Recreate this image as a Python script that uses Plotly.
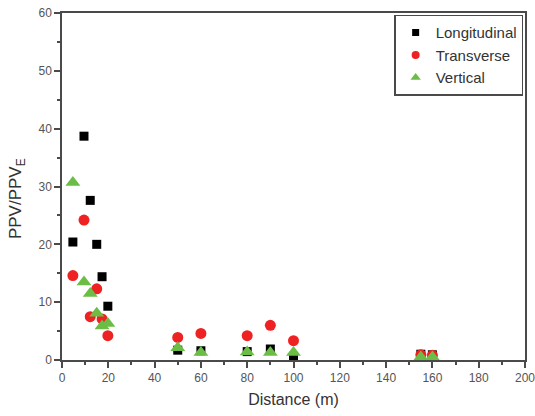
import plotly.graph_objects as go

# Measurement distances (m)
distance = [4.7, 9.5, 12.2, 15.0, 17.3, 19.8, 50, 60, 80, 90, 100, 155, 160]

# Normalised peak particle velocity PPV/PPV_E for each component
longitudinal = [20.4, 38.7, 27.6, 20.0, 14.4, 9.3, 1.7, 1.6, 1.45, 1.9, 0.6, 1.0, 0.9]
transverse = [14.6, 24.2, 7.5, 12.3, 7.1, 4.2, 3.9, 4.6, 4.2, 6.0, 3.35, 0.9, 0.8]
vertical = [30.7, 13.5, 11.5, 8.1, 5.9, 6.3, 2.1, 1.3, 1.4, 1.3, 1.3, 0.5, 0.5]

FONT = "Arial, Liberation Sans, sans-serif"
AXIS_COLOR = "#4a4a4a"

series = [
    ("Longitudinal", longitudinal, "square", 9, 7, "#000000"),
    ("Transverse", transverse, "circle", 11, 8, "#ee2222"),
    ("Vertical", vertical, "triangle-up", 13, 9, "#6cbd45"),
]

fig = go.Figure()
for name, values, symbol, size, _, color in series:
    fig.add_trace(go.Scatter(
        x=distance, y=values, mode="markers", name=name, showlegend=False,
        marker=dict(symbol=symbol, size=size, color=color), cliponaxis=False))
# Legend entries use smaller symbols than the plotted markers
for name, _, symbol, _, legend_size, color in series:
    fig.add_trace(go.Scatter(
        x=[None], y=[None], mode="markers", name=name,
        marker=dict(symbol=symbol, size=legend_size, color=color)))

axis_common = dict(
    showline=True, linecolor=AXIS_COLOR, linewidth=1.5, mirror=True,
    ticks="outside", ticklen=6, tickwidth=1.5, tickcolor=AXIS_COLOR,
    showgrid=False, zeroline=False, automargin=False,
    ticklabeloverflow="allow",
    tickfont=dict(family=FONT, size=12, color="#555555"),
)

fig.update_xaxes(
    range=[0, 200], dtick=20, tick0=0,
    minor=dict(dtick=10, ticks="outside", ticklen=3, tickcolor=AXIS_COLOR, tickwidth=1.5),
    title=dict(text="Distance (m)", font=dict(family=FONT, size=16, color="#333333"), standoff=10),
    **axis_common)
fig.update_yaxes(
    range=[0, 60], dtick=10, tick0=0,
    minor=dict(dtick=5, ticks="outside", ticklen=3, tickcolor=AXIS_COLOR, tickwidth=1.5),
    **axis_common)

fig.update_layout(
    width=535, height=416,
    margin=dict(l=62, r=10, t=13, b=56),
    plot_bgcolor="white", paper_bgcolor="white",
    legend=dict(
        x=0.996, y=0.995, xanchor="right", yanchor="top",
        bordercolor=AXIS_COLOR, borderwidth=1.5, bgcolor="white",
        font=dict(family=FONT, size=15, color="#333333"),
        tracegroupgap=0,
    ),
    annotations=[dict(
        text="PPV/PPV<sub>E</sub>", textangle=-90, showarrow=False,
        xref="paper", yref="paper", x=-0.097, y=0.464,
        xanchor="center", yanchor="middle",
        font=dict(family=FONT, size=17, color="#333333"),
    )],
)

fig.write_html("out.html")
